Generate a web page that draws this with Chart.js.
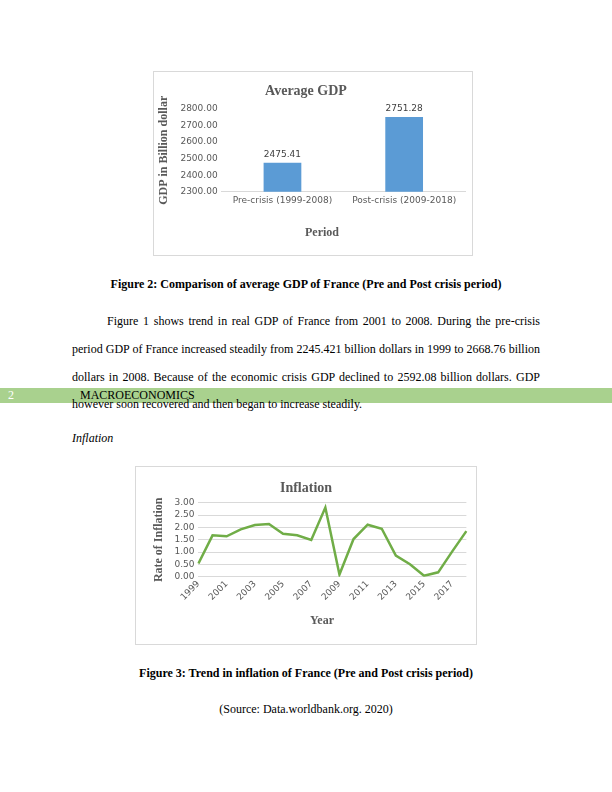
<!DOCTYPE html>
<html>
<head>
<meta charset="utf-8">
<script src="https://cdn.jsdelivr.net/npm/chart.js@4.4.1/dist/chart.umd.min.js"></script>
<style>
  html, body { margin: 0; padding: 0; background: #fff; }
  body { width: 612px; height: 792px; position: relative; overflow: hidden;
         font-family: "Liberation Serif", "Times New Roman", serif; font-size: 12px; color: #000; }
  .box { position: absolute; border: 1px solid #d9d9d9; box-sizing: border-box; }
  .box canvas { position: absolute; left: 0; top: 0; }
  .line { position: absolute; white-space: nowrap; line-height: 14px; height: 14px; color: #000; }
  .just { text-align: justify; text-align-last: justify; white-space: normal; }
  .center { left: 0; width: 612px; text-align: center; }
  #band { position: absolute; left: 0; top: 388px; width: 612px; height: 15px; background: #a9d18e; }
</style>
</head>
<body>

<div class="box" id="gdpBox" style="left:153px; top:71px; width:320px; height:185px;">
  <canvas id="gdpChart" width="318" height="183"></canvas>
</div>

<div class="line center" style="top:277px; font-weight:bold;">Figure 2: Comparison of average GDP of France (Pre and Post crisis period)</div>

<div id="band"></div>
<div class="line" style="left:8px; top:388px; color:#fff;">2</div>
<div class="line" style="left:80px; top:388px;">MACROECONOMICS</div>

<div class="line just" style="left:107px; width:433px; top:314px;">Figure 1 shows trend in real GDP of France from 2001 to 2008. During the pre-crisis</div>
<div class="line just" style="left:72px; width:468px; top:342px;">period GDP of France increased steadily from 2245.421 billion dollars in 1999 to 2668.76 billion</div>
<div class="line just" style="left:72px; width:468px; top:370px;">dollars in 2008. Because of the economic crisis GDP declined to 2592.08 billion dollars. GDP</div>
<div class="line" style="left:72px; top:397px;">however soon recovered and then began to increase steadily.</div>

<div class="line" style="left:72px; top:431px; font-style:italic;">Inflation</div>

<div class="box" id="infBox" style="left:135px; top:466px; width:342px; height:179px;">
  <canvas id="infChart" width="340" height="177"></canvas>
</div>

<div class="line center" style="top:666px; font-weight:bold;">Figure 3: Trend in inflation of France (Pre and Post crisis period)</div>
<div class="line center" style="top:702px;">(Source: Data.worldbank.org. 2020)</div>

<script>
// Average GDP (billion dollars) for the two periods
const periods = ['Pre-crisis (1999-2008)', 'Post-crisis (2009-2018)'];
const avgGdp = [2475.41, 2751.28];

// Inflation rate by year
const years = ['1999', '2000', '2001', '2002', '2003', '2004', '2005', '2006', '2007', '2008',
               '2009', '2010', '2011', '2012', '2013', '2014', '2015', '2016', '2017', '2018'];
const inflation = [0.54, 1.68, 1.64, 1.92, 2.10, 2.14, 1.74, 1.68, 1.49, 2.81,
                   0.09, 1.53, 2.11, 1.95, 0.86, 0.51, 0.04, 0.18, 1.03, 1.85];

const gray = '#595959';
const clear = 'rgba(0,0,0,0)';
const tickFont = { family: 'DejaVu Sans', size: 9 };
const titleFont = { family: 'Liberation Serif', size: 12, weight: 'bold' };
const headFont = { family: 'Liberation Serif', size: 14, weight: 'bold' };

// Draw the value above each bar
const barValues = {
  id: 'barValues',
  afterDatasetsDraw(chart) {
    const ctx = chart.ctx;
    const meta = chart.getDatasetMeta(0);
    ctx.save();
    ctx.font = '9px "DejaVu Sans"';
    ctx.fillStyle = '#404040';
    ctx.textAlign = 'center';
    ctx.textBaseline = 'bottom';
    meta.data.forEach((bar, i) => {
      ctx.fillText(chart.data.datasets[0].data[i].toFixed(2), bar.x, bar.y - 4);
    });
    ctx.restore();
  }
};

// Excel centres the chart title and the x title on the chart box, not on the plot,
// so the library keeps the space for them and we draw them ourselves
const boxTitles = {
  id: 'boxTitles',
  afterDraw(chart, args, opts) {
    const ctx = chart.ctx;
    const t = chart.titleBlock;
    const xs = chart.scales.x;
    ctx.save();
    ctx.fillStyle = gray;
    ctx.textAlign = 'center';
    ctx.textBaseline = 'middle';
    ctx.font = 'bold 14px "Liberation Serif"';
    ctx.fillText(opts.title, opts.titleX, t.top + t.options.padding.top + 8.4);
    ctx.font = 'bold 12px "Liberation Serif"';
    ctx.fillText(opts.xTitle, opts.xTitleX, xs.bottom - 7.2);
    ctx.restore();
  }
};

new Chart(document.getElementById('gdpChart'), {
  type: 'bar',
  data: {
    labels: periods,
    datasets: [{
      data: avgGdp,
      backgroundColor: '#5b9bd5',
      barPercentage: 0.31,
      categoryPercentage: 1
    }]
  },
  options: {
    responsive: false,
    animation: false,
    layout: { padding: { left: 3, right: 7, top: 0, bottom: 15 } },
    plugins: {
      legend: { display: false },
      tooltip: { enabled: false },
      title: { display: true, text: 'Average GDP', font: headFont, color: clear, padding: { top: 11, bottom: 9 } },
      boxTitles: { title: 'Average GDP', titleX: 152, xTitle: 'Period', xTitleX: 168 }
    },
    scales: {
      x: {
        grid: { display: false, drawTicks: false },
        border: { display: true, color: '#d9d9d9' },
        ticks: { font: tickFont, color: gray, padding: 3, maxRotation: 0 },
        title: { display: true, text: 'Period', font: titleFont, color: clear, padding: { top: 17, bottom: 0 } }
      },
      y: {
        min: 2300,
        max: 2800,
        grid: { display: false, drawTicks: false },
        border: { display: false },
        ticks: { stepSize: 100, autoSkip: false, font: tickFont, color: gray, padding: 4, callback: v => v.toFixed(2) },
        title: { display: true, text: 'GDP in Billion dollar', font: titleFont, color: gray, padding: { top: 0, bottom: 5 } }
      }
    }
  },
  plugins: [barValues, boxTitles]
});

new Chart(document.getElementById('infChart'), {
  type: 'line',
  data: {
    labels: years,
    datasets: [{
      data: inflation,
      borderColor: '#70ad47',
      borderWidth: 2.5,
      pointRadius: 0,
      tension: 0,
      fill: false
    }]
  },
  options: {
    responsive: false,
    animation: false,
    layout: { padding: { left: 16, right: 7, top: 0, bottom: 16 } },
    plugins: {
      legend: { display: false },
      tooltip: { enabled: false },
      title: { display: true, text: 'Inflation', font: headFont, color: clear, padding: { top: 13, bottom: 6 } },
      boxTitles: { title: 'Inflation', titleX: 170, xTitle: 'Year', xTitleX: 186 }
    },
    scales: {
      x: {
        offset: false,
        grid: { display: false, drawTicks: false },
        border: { display: false },
        ticks: {
          font: tickFont, color: gray, padding: 2, autoSkip: false,
          maxRotation: 45, minRotation: 45,
          callback: function(v, i) { return i % 2 === 0 ? this.getLabelForValue(v) : ''; }
        },
        title: { display: true, text: 'Year', font: titleFont, color: clear, padding: { top: 9, bottom: 0 } }
      },
      y: {
        min: 0,
        max: 3,
        grid: { color: '#d9d9d9', drawTicks: false },
        border: { display: false },
        ticks: { stepSize: 0.5, autoSkip: false, font: tickFont, color: gray, padding: 4, callback: v => v.toFixed(2) },
        title: { display: true, text: 'Rate of Inflation', font: titleFont, color: gray, padding: { top: 0, bottom: 4 } }
      }
    }
  },
  plugins: [boxTitles]
});
</script>
</body>
</html>
